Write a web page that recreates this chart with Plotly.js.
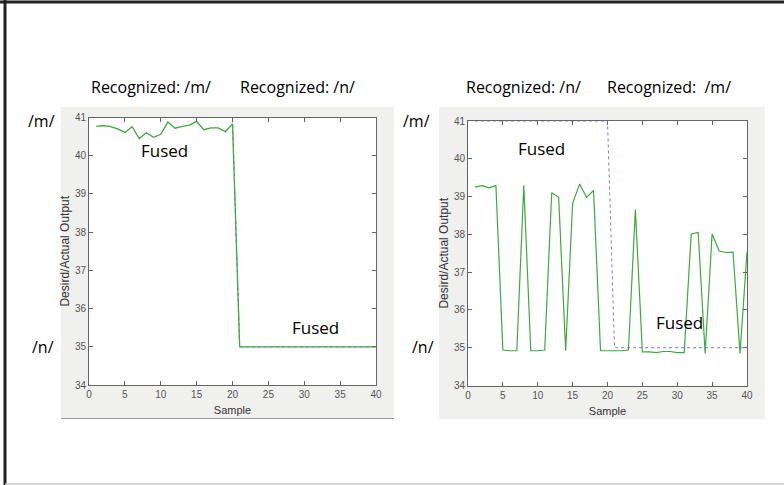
<!DOCTYPE html>
<html>
<head>
<meta charset="utf-8">
<script src="https://cdn.plot.ly/plotly-3.0.1.min.js"></script>
<style>html,body{margin:0;padding:0;background:#fff;}#chart{width:784px;height:485px;}</style>
</head>
<body>
<div id="chart"></div>
<script>
// ---- data ----
var samples = [1,2,3,4,5,6,7,8,9,10,11,12,13,14,15,16,17,18,19,20,21,22,23,24,25,26,27,28,29,30,31,32,33,34,35,36,37,38,39,40];
var leftDesired = [41,41,41,41,41,41,41,41,41,41,41,41,41,41,41,41,41,41,41,41,35,35,35,35,35,35,35,35,35,35,35,35,35,35,35,35,35,35,35,35];
var leftActual = [40.77,40.79,40.76,40.70,40.61,40.76,40.45,40.60,40.48,40.56,40.88,40.72,40.77,40.80,40.90,40.68,40.73,40.73,40.63,40.83,35,35,35,35,35,35,35,35,34.99,34.99,35,35,35,35,35,35,35,35,35,35];
var rightDesired = [41,41,41,41,41,41,41,41,41,41,41,41,41,41,41,41,41,41,41,41,35,35,35,35,35,35,35,35,35,35,35,35,35,35,35,35,35,35,35,35];
var rightActual = [39.25,39.29,39.23,39.29,34.94,34.92,34.92,39.30,34.92,34.92,34.94,39.10,38.98,34.92,38.82,39.33,38.98,39.16,34.92,34.92,34.92,34.92,34.94,38.66,34.89,34.89,34.87,34.90,34.90,34.87,34.87,38.01,38.05,34.85,38.01,37.56,37.52,37.53,34.85,37.54];
var xTicks = [0,5,10,15,20,25,30,35,40];
var yTicks = [34,35,36,37,38,39,40,41];
var xTitle = "Sample";
var yTitle = "Desird/Actual Output";
var labelsTop = ["Recognized: /m/", "Recognized: /n/", "Recognized: /n/", "Recognized:  /m/"];
var sideLabels = ["/m/", "/n/", "/m/", "/n/"];
var fusedLabel = "Fused";

var W = 784, H = 485;
function px(x){return x/W;}
function py(y){return 1 - y/H;}

var green = "#3fa83f", blue = "rgb(120,120,230)";

var traces = [
  {x: samples, y: leftDesired, xaxis:"x", yaxis:"y", mode:"lines", line:{color:blue, width:1, dash:"dot"}, hoverinfo:"skip"},
  {x: samples, y: leftActual, xaxis:"x", yaxis:"y", mode:"lines", line:{color:green, width:1.3}},
  {x: samples, y: rightDesired, xaxis:"x2", yaxis:"y2", mode:"lines", line:{color:blue, width:1, dash:"dot"}, hoverinfo:"skip"},
  {x: samples, y: rightActual, xaxis:"x2", yaxis:"y2", mode:"lines", line:{color:green, width:1.2}}
];

function xax(dom, anchor){
  return {domain: dom, anchor: anchor, range:[0,40], tickvals: xTicks, ticks:"inside", ticklen:4, tickcolor:"#666",
    showline:true, linecolor:"#666", linewidth:1, mirror:"ticks", showgrid:false, zeroline:false,
    tickfont:{family:"Liberation Sans, Arial", size:10, color:"#555"},
    title:{text:xTitle, font:{family:"Liberation Sans, Arial", size:11, color:"#333"}, standoff:7}};
}
function yax(dom, anchor){
  return {domain: dom, anchor: anchor, range:[34,41], tickvals: yTicks, ticks:"inside", ticklen:4, tickcolor:"#666",
    showline:true, linecolor:"#666", linewidth:1, mirror:"ticks", showgrid:false, zeroline:false,
    tickfont:{family:"Liberation Sans, Arial", size:10, color:"#555"},
    title:{text:yTitle, font:{family:"Liberation Sans, Arial", size:12, color:"#333"}, standoff:2}};
}

var shapes = [
  {type:"rect", xref:"paper", yref:"paper", x0:px(61), x1:px(394), y0:py(418), y1:py(107), fillcolor:"#f0f0ef", line:{width:0}, layer:"below"},
  {type:"rect", xref:"paper", yref:"paper", x0:px(439), x1:px(765), y0:py(419), y1:py(107), fillcolor:"#f0f0ef", line:{width:0}, layer:"below"},
  {type:"line", xref:"paper", yref:"paper", x0:px(61), x1:px(394), y0:py(418.5), y1:py(418.5), line:{color:"#999", width:1}},
  {type:"rect", xref:"paper", yref:"paper", x0:px(89), x1:px(376), y0:py(385), y1:py(117.5), fillcolor:"#fff", line:{width:0}, layer:"below"},
  {type:"rect", xref:"paper", yref:"paper", x0:px(468), x1:px(747), y0:py(385.5), y1:py(121), fillcolor:"#fff", line:{width:0}, layer:"below"},
  {type:"line", xref:"paper", yref:"paper", x0:0, x1:1, y0:py(2), y1:py(2), line:{color:"#222", width:3}},
  {type:"line", xref:"paper", yref:"paper", x0:px(5), x1:px(5), y0:py(0), y1:py(485), line:{color:"#222", width:3}},
  {type:"line", xref:"paper", yref:"paper", x0:px(5), x1:1, y0:py(484), y1:py(484), line:{color:"#ccc", width:1.5}}
];

function ann(text, x, y, size){
  return {text:text, xref:"paper", yref:"paper", x:px(x), y:py(y), xanchor:"center", yanchor:"middle", showarrow:false,
    font:{family:"Open Sans, Noto Sans, sans-serif", size:size, color:"#000"}};
}
var annotations = [
  ann(labelsTop[0], 151, 87, 16), ann(labelsTop[1], 297, 87, 16),
  ann(labelsTop[2], 523, 87, 16), ann(labelsTop[3], 669, 87, 16),
  ann(sideLabels[0], 41, 121, 16), ann(sideLabels[1], 43, 347, 16),
  ann(sideLabels[2], 416, 121, 16), ann(sideLabels[3], 423, 347, 16),
  ann(fusedLabel, 164, 150, 17), ann(fusedLabel, 315, 327, 17),
  ann(fusedLabel, 541, 148, 17), ann(fusedLabel, 679, 322, 17)
];

var layout = {
  width:W, height:H, margin:{l:0,r:0,t:0,b:0}, showlegend:false,
  paper_bgcolor:"#fff", plot_bgcolor:"rgba(0,0,0,0)",
  xaxis: xax([px(89), px(376)], "y"),
  yaxis: yax([py(385), py(117.5)], "x"),
  xaxis2: xax([px(468), px(747)], "y2"),
  yaxis2: yax([py(385.5), py(121)], "x2"),
  shapes: shapes, annotations: annotations
};

Plotly.newPlot("chart", traces, layout, {displayModeBar:false, staticPlot:true});
</script>
</body>
</html>
